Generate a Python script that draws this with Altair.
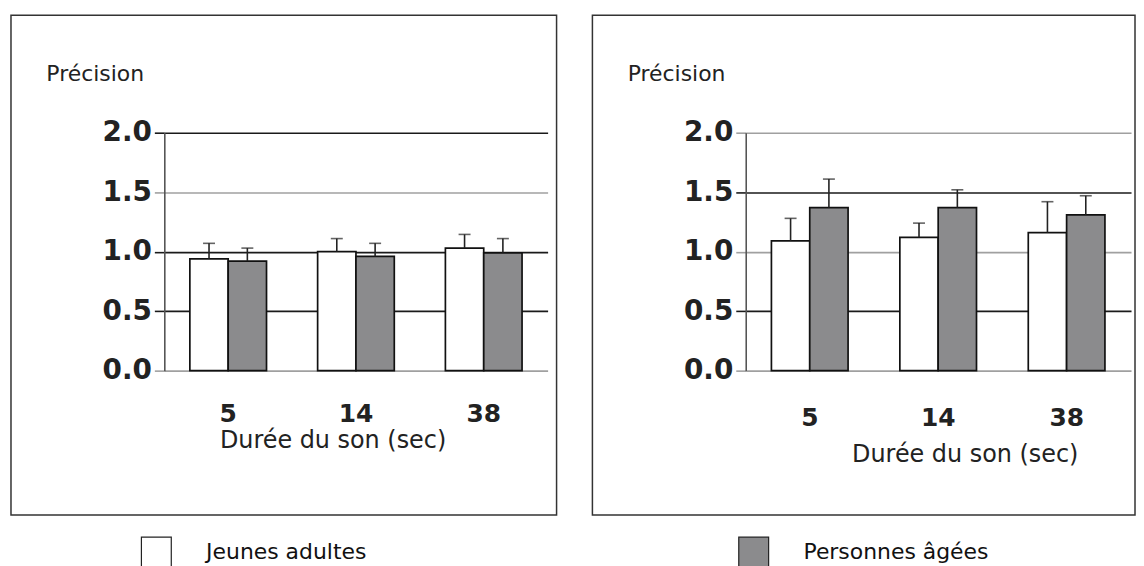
import altair as alt
import pandas as pd

# ---- data ----
durations = ["5", "14", "38"]
groups = ["Jeunes adultes", "Personnes âgées"]

# left panel
left_young_mean = [0.94, 1.00, 1.03]
left_young_upper = [1.07, 1.11, 1.145]
left_old_mean = [0.92, 0.96, 0.99]
left_old_upper = [1.03, 1.07, 1.11]

# right panel
right_young_mean = [1.09, 1.12, 1.16]
right_young_upper = [1.28, 1.24, 1.42]
right_old_mean = [1.37, 1.37, 1.31]
right_old_upper = [1.61, 1.52, 1.47]

y_ticks = [0.0, 0.5, 1.0, 1.5, 2.0]
y_title = "Précision"
x_title = "Durée du son (sec)"


def make_df(ym, yu, om, ou):
    rows = []
    for i, d in enumerate(durations):
        rows.append({"duree": d, "groupe": groups[0], "moy": ym[i], "haut": yu[i]})
        rows.append({"duree": d, "groupe": groups[1], "moy": om[i], "haut": ou[i]})
    return pd.DataFrame(rows)


FONT = "DejaVu Sans"
fill_scale = alt.Scale(domain=groups, range=["white", "#8b8b8d"])


def panel(df, dark_levels, x_title_x, x_title_y, x_label_pad, frame_x2, width):
    grid_col = {"condition": {"test": dark_levels, "value": "#1a1a1a"}, "value": "#a0a0a0"}
    xenc = alt.X("duree:N", sort=durations,
                 scale=alt.Scale(paddingInner=0.4, paddingOuter=0.2),
                 axis=alt.Axis(title=x_title, ticks=False, domain=False, grid=False,
                               labelAngle=0, labelFont=FONT, labelFontWeight="bold",
                               labelFontSize=25, labelColor="#222", labelPadding=x_label_pad,
                               titleFont=FONT, titleFontWeight="normal", titleFontSize=24,
                               titleColor="#222", titleX=x_title_x, titleY=x_title_y,
                               titleBaseline="middle", titleAlign="center"))
    yenc = alt.Y("moy:Q", scale=alt.Scale(domain=[0, 2], nice=False),
                 axis=alt.Axis(title=y_title, values=y_ticks, format=".1f",
                               grid=True, gridColor=grid_col, gridWidth=1.6,
                               tickColor=grid_col, tickWidth=1.6, tickSize=10,
                               domain=True, domainColor="#555", domainWidth=1.6,
                               labelFont=FONT, labelFontWeight="bold", labelFontSize=28,
                               labelColor="#222", labelPadding=3, labelOverlap=False,
                               labelFlush=False,
                               titleFont=FONT, titleFontWeight="normal", titleFontSize=22,
                               titleColor="#222", titleAngle=0, titleX=-119, titleY=-52,
                               titleAlign="left", titleBaseline="alphabetic"))
    base = alt.Chart(df)
    bars = base.mark_bar(stroke="#111", strokeWidth=1.7).encode(
        x=xenc,
        xOffset=alt.XOffset("groupe:N", sort=groups, scale=alt.Scale(paddingInner=0, paddingOuter=0)),
        y=yenc,
        fill=alt.Fill("groupe:N", scale=fill_scale, sort=groups,
                      legend=alt.Legend(title=None, orient="none", legendX=-24, legendY=405,
                                        direction="horizontal", symbolType="square",
                                        symbolSize=900, symbolStrokeColor="#222",
                                        symbolStrokeWidth=1.2, labelFont=FONT,
                                        labelFontSize=22, labelColor="#111",
                                        labelOffset=34, columnPadding=370,
                                        labelLimit=400)),
    )
    err = base.mark_rule(color="#222", strokeWidth=1.6).encode(
        x=alt.X("duree:N", sort=durations),
        xOffset=alt.XOffset("groupe:N", sort=groups),
        y="moy:Q", y2="haut:Q",
    )
    cap = base.mark_tick(color="#222", size=12, thickness=1.6).encode(
        x=alt.X("duree:N", sort=durations),
        xOffset=alt.XOffset("groupe:N", sort=groups),
        y=alt.Y("haut:Q"),
    )
    frame = alt.Chart(pd.DataFrame({"k": [0]})).mark_rect(
        fill="transparent", stroke="#333", strokeWidth=1.5).encode(
        x=alt.value(-154), x2=alt.value(frame_x2),
        y=alt.value(-118), y2=alt.value(384),
    )
    return alt.layer(bars, err, cap, frame).properties(width=width, height=239)


left = panel(make_df(left_young_mean, left_young_upper, left_old_mean, left_old_upper),
             "datum.value == 2 || datum.value == 1 || datum.value == 0.5",
             169, 70, 31, 394, 385)
right = panel(make_df(right_young_mean, right_young_upper, right_old_mean, right_old_upper),
              "datum.value == 1.5 || datum.value == 0.5",
              220, 84, 35, 391, 387)

chart = alt.hconcat(left, right, spacing=34).properties(
    padding={"left": 2, "top": 5, "right": 0, "bottom": 0},
    background="white",
).configure_view(stroke=None)

chart.save("out.html", embed_options={"renderer": "svg", "actions": False})
